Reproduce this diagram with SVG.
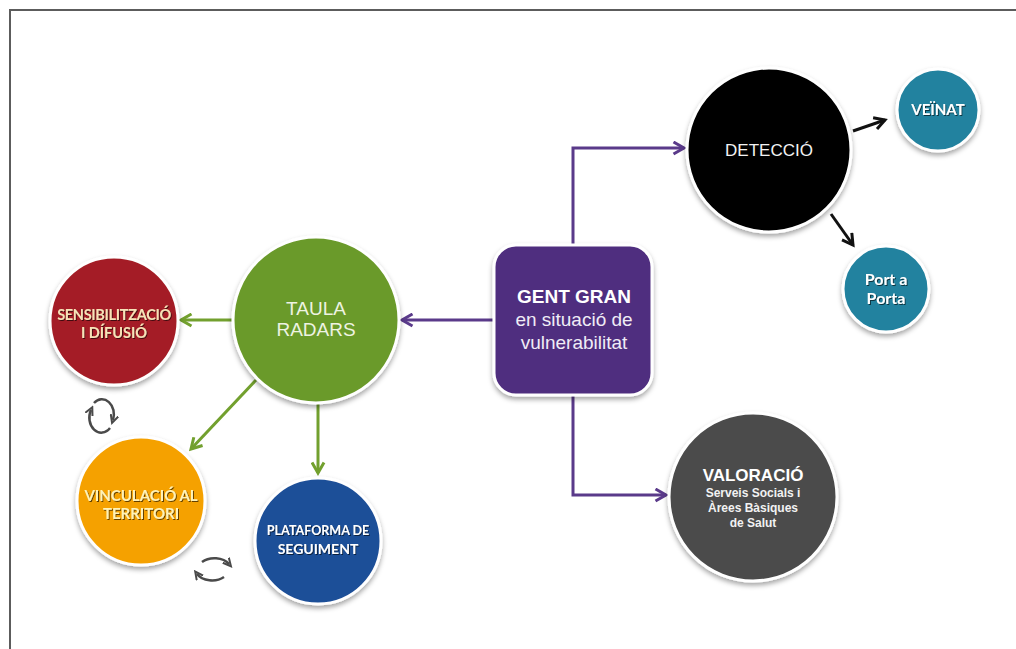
<svg xmlns="http://www.w3.org/2000/svg" width="1016" height="649" viewBox="0 0 1016 649">
<style>
.ring{stroke:#ffffff;stroke-width:3}
.sans{font-family:"Liberation Sans",Arial,sans-serif}
.cal{font-family:Lato,"Open Sans",sans-serif;font-weight:bold}
.conP{stroke:#5a3a8a;stroke-width:3;fill:none}
.conG{stroke:#72a02e;stroke-width:3;fill:none}
.conK{stroke:#111;stroke-width:3;fill:none}
.cyc{stroke:#4a4a4a;stroke-width:2.5;fill:none}
</style>
<defs>
<filter id="sh" x="-20%" y="-20%" width="140%" height="145%">
<feDropShadow dx="0" dy="3" stdDeviation="2.5" flood-color="#000" flood-opacity="0.35"/>
</filter>
<filter id="ts" x="-10%" y="-30%" width="120%" height="160%">
<feDropShadow dx="1" dy="1" stdDeviation="0.7" flood-color="#000" flood-opacity="0.6"/>
</filter>
<marker id="mP" viewBox="0 0 10 10" refX="8" refY="5" markerWidth="5" markerHeight="5" orient="auto" markerUnits="strokeWidth">
<path d="M1,1 L8,5 L1,9" fill="none" stroke="#5a3a8a" stroke-width="2"/>
</marker>
<marker id="mG" viewBox="0 0 10 10" refX="8" refY="5" markerWidth="5" markerHeight="5" orient="auto" markerUnits="strokeWidth">
<path d="M1,1 L8,5 L1,9" fill="none" stroke="#72a02e" stroke-width="2"/>
</marker>
<marker id="mK" viewBox="0 0 10 10" refX="8" refY="5" markerWidth="5" markerHeight="5" orient="auto" markerUnits="strokeWidth">
<path d="M1,1 L8,5 L1,9" fill="none" stroke="#111" stroke-width="2"/>
</marker>
<marker id="mC" viewBox="0 0 10 10" refX="5" refY="5" markerWidth="4" markerHeight="4" orient="auto" markerUnits="strokeWidth">
<path d="M0,1 L8,5 L0,9" fill="none" stroke="#4a4a4a" stroke-width="2"/>
</marker>
</defs>
<rect x="0" y="0" width="1016" height="649" fill="#ffffff"/>
<rect x="10" y="10" width="1100" height="700" fill="none" stroke="#5c5c5c" stroke-width="2"/>

<g id="connectors">
<path class="conP" d="M573,245 V148 H684" marker-end="url(#mP)"/>
<path class="conP" d="M573,395 V495 H666" marker-end="url(#mP)"/>
<path class="conP" d="M494,320 H402" marker-end="url(#mP)"/>
<path class="conG" d="M233,320 H181" marker-end="url(#mG)"/>
<path class="conG" d="M256,380 L191,449" marker-end="url(#mG)"/>
<path class="conG" d="M318,403 V473" marker-end="url(#mG)"/>
<path class="conK" d="M853,131 L885,120" marker-end="url(#mK)"/>
<path class="conK" d="M831,214 L853,245" marker-end="url(#mK)"/>
<path class="cyc" d="M94,403 A12,15 0 0 1 113,420" marker-end="url(#mC)"/>
<path class="cyc" d="M110,428 A12,15 0 0 1 91,410" marker-end="url(#mC)"/>
<path class="cyc" d="M202,562 A17,12 0 0 1 229,564" marker-end="url(#mC)"/>
<path class="cyc" d="M224,577 A17,12 0 0 1 197,574" marker-end="url(#mC)"/>
</g>

<g id="gent-gran">
<rect x="494" y="245" width="158" height="150" rx="22" fill="#4f2d7f" class="ring" filter="url(#sh)"/>
<text x="574" y="303" text-anchor="middle" class="sans" font-size="19" font-weight="bold" fill="#ffffff">GENT GRAN</text>
<text x="574" y="326" text-anchor="middle" class="sans" font-size="19" fill="#f0ecf6">en situació de</text>
<text x="574" y="349" text-anchor="middle" class="sans" font-size="19" fill="#f0ecf6">vulnerabilitat</text>
</g>

<g id="deteccio">
<circle cx="769" cy="150" r="82" fill="#000000" class="ring" filter="url(#sh)"/>
<text x="769" y="156" text-anchor="middle" class="sans" font-size="17" fill="#f2f2f2">DETECCIÓ</text>
</g>

<g id="veinat">
<circle cx="938" cy="110" r="41" fill="#23829f" class="ring" filter="url(#sh)"/>
<text x="938" y="115" text-anchor="middle" class="cal" font-size="15" fill="#ffffff" filter="url(#ts)">VEÏNAT</text>
</g>

<g id="port-a-porta">
<circle cx="886" cy="289" r="43" fill="#23829f" class="ring" filter="url(#sh)"/>
<text x="886" y="285" text-anchor="middle" class="cal" font-size="16" fill="#ffffff" filter="url(#ts)">Port a</text>
<text x="886" y="304" text-anchor="middle" class="cal" font-size="16" fill="#ffffff" filter="url(#ts)">Porta</text>
</g>

<g id="valoracio">
<circle cx="753" cy="497" r="84" fill="#4b4b4b" class="ring" filter="url(#sh)"/>
<text x="753" y="481" text-anchor="middle" class="sans" font-size="17" font-weight="bold" fill="#ffffff">VALORACIÓ</text>
<text x="753" y="497" text-anchor="middle" class="sans" font-size="12" font-weight="bold" fill="#f2f2f2">Serveis Socials i</text>
<text x="753" y="512" text-anchor="middle" class="sans" font-size="12" font-weight="bold" fill="#f2f2f2">Àrees Bàsiques</text>
<text x="753" y="527" text-anchor="middle" class="sans" font-size="12" font-weight="bold" fill="#f2f2f2">de Salut</text>
</g>

<g id="taula-radars">
<circle cx="316" cy="320" r="83" fill="#6b9a2a" class="ring" filter="url(#sh)"/>
<text x="316" y="315" text-anchor="middle" class="sans" font-size="19" fill="#eef3e2">TAULA</text>
<text x="316" y="336" text-anchor="middle" class="sans" font-size="19" fill="#eef3e2">RADARS</text>
</g>

<g id="sensibilitzacio">
<circle cx="114" cy="321" r="64" fill="#a41f25" class="ring" filter="url(#sh)"/>
<text x="114" y="320" text-anchor="middle" class="cal" font-size="14.5" fill="#f6e3b8" filter="url(#ts)" letter-spacing="-0.3">SENSIBILITZACIÓ</text>
<text x="114" y="338" text-anchor="middle" class="cal" font-size="14.5" fill="#f6e3b8" filter="url(#ts)">I DÍFUSIÓ</text>
</g>

<g id="vinculacio">
<circle cx="141" cy="501" r="64" fill="#f5a100" class="ring" filter="url(#sh)"/>
<text x="141" y="501" text-anchor="middle" class="cal" font-size="15" fill="#fff2b8" filter="url(#ts)">VINCULACIÓ AL</text>
<text x="141" y="519" text-anchor="middle" class="cal" font-size="15" fill="#fff2b8" filter="url(#ts)">TERRITORI</text>
</g>

<g id="plataforma">
<circle cx="318" cy="541" r="63" fill="#1f4f98" class="ring" filter="url(#sh)"/>
<text x="318" y="535" text-anchor="middle" class="cal" font-size="12.5" fill="#ffffff" filter="url(#ts)">PLATAFORMA DE</text>
<text x="318" y="554" text-anchor="middle" class="cal" font-size="14" fill="#ffffff" filter="url(#ts)">SEGUIMENT</text>
</g>
</svg>
